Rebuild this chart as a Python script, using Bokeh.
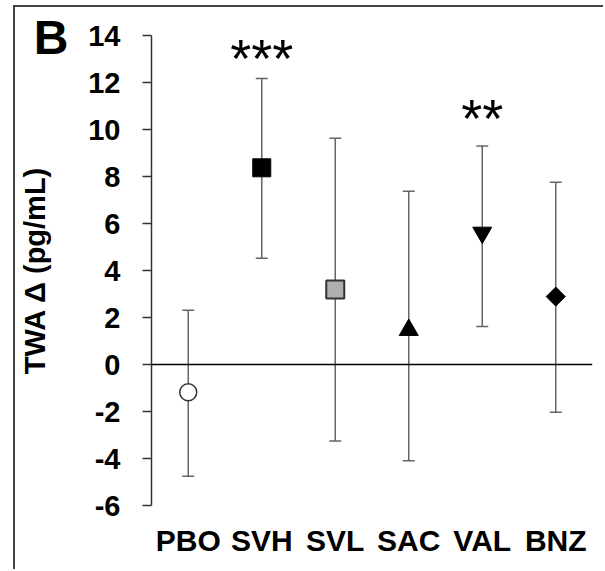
from bokeh.plotting import figure
from bokeh.models import (ColumnDataSource, Whisker, TeeHead, Span, FixedTicker,
                          Range1d, FactorRange, LinearAxis)
from bokeh.core.properties import value
from bokeh.embed import file_html
from bokeh.resources import INLINE

# ---- data ----
categories = ["PBO", "SVH", "SVL", "SAC", "VAL", "BNZ"]
means = [-1.18, 8.37, 3.19, 1.47, 5.61, 2.89]
upper = [2.31, 12.17, 9.63, 7.37, 9.30, 7.76]
lower = [-4.75, 4.52, -3.25, -4.10, 1.62, -2.03]
y_ticks = [-6, -4, -2, 0, 2, 4, 6, 8, 10, 12, 14]
sig_cats = ["SVH", "VAL"]
sig_text = ["***", "**"]
sig_y = [13.05, 10.5]
panel_letter = "B"
y_title = "TWA Δ (pg/mL)"

# ---- styles ----
markers = ["circle", "square", "square", "triangle", "inverted_triangle", "square"]
fills = ["white", "black", "#b0aeae", "black", "black", "black"]
lines = ["#333333", "black", "#333333", "black", "black", "black"]
lwidths = [1.5, 1, 2, 1, 1, 1]
sizes = [17, 18, 18, 19, 19, 13.5]
angles = [0, 0, 0, 0, 0, 0.785398]

FONT = "Liberation Sans"

src = ColumnDataSource(dict(cat=categories, mean=means, upper=upper, lower=lower,
                            marker=markers, fill=fills, line=lines, lw=lwidths,
                            size=sizes, angle=angles))

p = figure(width=590, height=564, x_range=FactorRange(*categories, range_padding=0),
           y_range=Range1d(-6, 14), output_backend="svg", toolbar_location=None,
           min_border_left=136, min_border_right=13, min_border_top=28, min_border_bottom=66)
p.styles = {"margin-left": "13px", "margin-top": "5px",
            "border-left": "2px solid #444444", "border-top": "2px solid #444444"}

p.outline_line_color = None
p.xgrid.grid_line_color = None
p.ygrid.grid_line_color = None

# y axis (ticks + tick labels)
ya = p.yaxis[0]
ya.ticker = FixedTicker(ticks=y_ticks)
ya.major_label_overrides = {t: str(t) for t in y_ticks}
ya.axis_line_color = "#333333"
ya.axis_line_width = 1.5
ya.major_tick_line_color = "#333333"
ya.major_tick_line_width = 1.5
ya.major_tick_out = 9
ya.major_tick_in = 0
ya.minor_tick_line_color = None
ya.major_label_standoff = 22
ya.major_label_text_font = FONT
ya.major_label_text_font_style = "bold"
ya.major_label_text_font_size = "29px"
ya.major_label_text_color = "black"

# outer left axis: carries the panel letter and the axis title
oa = LinearAxis(ticker=FixedTicker(ticks=[13.9]), major_label_overrides={13.9: panel_letter})
oa.axis_line_color = None
oa.major_tick_line_color = None
oa.major_tick_out = 0
oa.major_tick_in = 0
oa.minor_tick_line_color = None
oa.major_label_standoff = 17
oa.major_label_text_font = FONT
oa.major_label_text_font_style = "bold"
oa.major_label_text_font_size = "48px"
oa.major_label_text_color = "black"
oa.axis_label = y_title
oa.axis_label_text_font = FONT
oa.axis_label_text_font_style = "bold"
oa.axis_label_text_font_size = "29px"
oa.axis_label_text_color = "black"
oa.axis_label_standoff = -20
p.add_layout(oa, "left")

# x axis
xa = p.xaxis[0]
xa.axis_line_color = None
xa.major_tick_line_color = None
xa.major_tick_out = 0
xa.major_tick_in = 0
xa.minor_tick_line_color = None
xa.major_label_standoff = 18
xa.major_label_text_font = FONT
xa.major_label_text_font_style = "bold"
xa.major_label_text_font_size = "30px"
xa.major_label_text_color = "black"

# zero line
p.add_layout(Span(location=0, dimension="width", line_color="black", line_width=1.5))

# error bars
w = Whisker(base="cat", upper="upper", lower="lower", source=src,
            line_color="#666666", line_width=1.5, level="underlay",
            upper_head=TeeHead(size=12, line_color="#666666", line_width=1.5),
            lower_head=TeeHead(size=12, line_color="#666666", line_width=1.5))
p.add_layout(w)

# markers
p.scatter(x="cat", y="mean", source=src, marker="marker", size="size", angle="angle",
          fill_color="fill", line_color="line", line_width="lw")

# significance stars
p.text(x=sig_cats, y=sig_y, text=sig_text, text_font=value(FONT), text_font_size="54px",
       text_align="center", text_baseline="alphabetic", text_color="black")

open("out.html", "w").write(file_html(p, INLINE))
